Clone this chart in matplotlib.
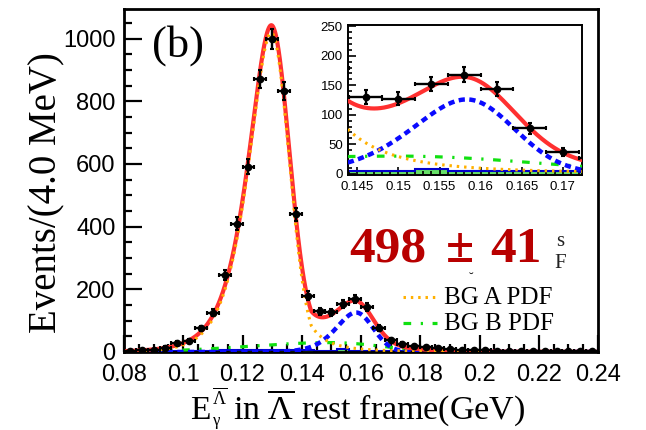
import numpy as np
import matplotlib
matplotlib.use("Agg")
import matplotlib.pyplot as plt
from matplotlib.lines import Line2D
from matplotlib.ticker import MultipleLocator, FixedLocator, FixedFormatter

plt.rcParams["font.family"] = ["Liberation Sans", "DejaVu Sans"]
plt.rcParams["mathtext.fontset"] = "custom"
plt.rcParams["mathtext.rm"] = "Liberation Serif"
plt.rcParams["mathtext.it"] = "Liberation Serif:italic"
plt.rcParams["mathtext.bf"] = "Liberation Serif:bold"

# ---------------- data: events per 4 MeV bin ----------------
bin_lo, bin_hi, bin_width = 0.080, 0.240, 0.004
counts = [3, 5, 5, 14, 30, 35, 75, 126, 245, 410,
          591, 871, 998, 833, 440, 180, 130, 127, 152, 168,
          143, 77, 37, 26, 18, 16, 12, 10, 7, 6,
          5, 4, 4, 3, 3, 2, 3, 2, 2, 2]
# sideband-like histogram drawn filled at the bottom
side_counts = [1, 1, 2, 2, 3, 3, 4, 4, 5, 5,
               5, 5, 5, 5, 5, 5, 4, 4, 8, 4,
               4, 4, 4, 3, 3, 2, 2, 2, 1, 1,
               1, 1, 1, 1, 1, 1, 1, 1, 1, 1]

# ---------------- fit components (shape parameters) ----------------
# BG A: large peak, width grows with distance from the mean
bga_mu, bga_height = 0.1297, 1019.0
bga_sig_left, bga_grow_left = 0.0063, 0.15
bga_sig_right, bga_grow_right, bga_knee_right = 0.00605, 0.23, 0.0135
# signal peak
sig_mu, sig_height = 0.1583, 126.0
sig_sig_left, sig_grow_left = 0.0060, 0.10
sig_sig_right = 0.0058
# BG B: broad bump
bgb_mu, bgb_height = 0.150, 30.0
bgb_sig_left, bgb_sig_right = 0.028, 0.017

yield_text = "498"
yield_err = "41"

main_xticks = [0.08, 0.10, 0.12, 0.14, 0.16, 0.18, 0.20, 0.22, 0.24]
main_xlabels = ["0.08", "0.1", "0.12", "0.14", "0.16", "0.18", "0.2", "0.22", "0.24"]
inset_xticks = [0.145, 0.150, 0.155, 0.160, 0.165, 0.170]
inset_xlabels = ["0.145", "0.15", "0.155", "0.16", "0.165", "0.17"]


def peak(x, mu, h, sl, gl, sr, gr=0.0, knee=0.0):
    dx = x - mu
    s = np.where(dx < 0, sl + gl * np.abs(dx),
                 sr + gr * np.clip(dx - knee, 0, None))
    return h * np.exp(-0.5 * (dx / s) ** 2)


edges = np.arange(len(counts) + 1) * bin_width + bin_lo
centers = 0.5 * (edges[:-1] + edges[1:])
y = np.array(counts, dtype=float)
yerr = np.sqrt(y)

xf = np.linspace(bin_lo, bin_hi, 1600)
bga = peak(xf, bga_mu, bga_height, bga_sig_left, bga_grow_left,
           bga_sig_right, bga_grow_right, bga_knee_right)
sig = peak(xf, sig_mu, sig_height, sig_sig_left, sig_grow_left, sig_sig_right)
bgb = peak(xf, bgb_mu, bgb_height, bgb_sig_left, 0.0, bgb_sig_right)
total = bga + sig + bgb

RED = "#ff3030"
ORANGE = "#ffb000"
BLUE = "#0a0aff"
GREEN = "#10e010"
FILL = "#66e066"

W, H = 646, 430
fig = plt.figure(figsize=(W / 100, H / 100), dpi=100)


def fx(px):
    return px / W


def fy(py):
    return 1 - py / H


def draw(ax, lw_scale=1.0, ms=4.5):
    ax.stairs(side_counts, edges, fill=True, color=FILL, zorder=1)
    ax.stairs(side_counts, edges, color="#0000cc", lw=1.5, zorder=2)
    ax.plot(xf, bgb, color=GREEN, lw=2.3 * lw_scale,
            dashes=(2.4, 3.0, 0.7, 3.0), zorder=3)
    ax.plot(xf, sig, color=BLUE, lw=3.2 * lw_scale, dashes=(1.4, 1.0), zorder=4)
    ax.plot(xf, total, color=RED, lw=3.0 * lw_scale, zorder=5)
    ax.plot(xf, bga, color=ORANGE, lw=2.2 * lw_scale, dashes=(0.8, 1.6), zorder=6)
    ax.errorbar(centers, y, yerr=yerr, xerr=bin_width / 2, fmt="o",
                color="black", ms=ms, elinewidth=1.7, capsize=1.6,
                capthick=1.5, zorder=10)


# ---------------- main panel ----------------
ax = fig.add_axes([fx(124), fy(352), fx(598 - 124), (352 - 8.5) / H])
draw(ax)
ax.set_xlim(bin_lo, bin_hi)
ax.set_ylim(0, 1096)
ax.xaxis.set_major_locator(FixedLocator(main_xticks))
ax.xaxis.set_major_formatter(FixedFormatter(main_xlabels))
ax.xaxis.set_minor_locator(MultipleLocator(0.005))
ax.yaxis.set_major_locator(MultipleLocator(200))
ax.yaxis.set_minor_locator(MultipleLocator(50))
ax.tick_params(which="both", direction="in", top=False, right=False,
               width=1.6, labelsize=17)
ax.tick_params(axis="x", which="major", length=12, pad=8.6)
ax.tick_params(axis="y", which="major", length=13, pad=6)
ax.tick_params(which="minor", length=6)
for s in ax.spines.values():
    s.set_linewidth(2.0)

ax.set_ylabel("Events/(4.0 MeV)", fontfamily="Liberation Serif", fontsize=28,
              va="center")
ax.yaxis.set_label_coords((47 - 124) / 474, (352 - 193) / 343.5)

# x-axis title: E with Lambda-bar superscript and gamma subscript
SERIF = "Liberation Serif"
fig.text(fx(190), fy(419), "E", fontfamily=SERIF, fontsize=24, va="baseline")
fig.text(fx(212), fy(404), r"$\overline{\Lambda}$", fontfamily=SERIF,
         fontsize=13, va="baseline")
fig.text(fx(213), fy(421), "\u03b3", fontfamily=SERIF, fontsize=12,
         va="center")
fig.text(fx(233), fy(419), r"in $\overline{\Lambda}$ rest frame(GeV)",
         fontfamily=SERIF, fontsize=24.5, va="baseline")

fig.text(fx(178), fy(46), "(b)", fontfamily=SERIF, fontsize=32,
         ha="center", va="center")

# fitted yield
DARKRED = "#b80000"
fig.text(fx(388), fy(250), yield_text, fontfamily=SERIF,
         fontweight="bold", fontsize=37, color=DARKRED, ha="center", va="center")
fig.text(fx(460), fy(250), "\u00b1", fontfamily=SERIF,
         fontweight="bold", fontsize=37, color=DARKRED, ha="center", va="center")
fig.text(fx(516), fy(250), yield_err, fontfamily=SERIF,
         fontweight="bold", fontsize=37, color=DARKRED, ha="center", va="center")
fig.text(fx(560), fy(242), "s", fontfamily=SERIF, fontsize=15,
         color="#222222", ha="center", va="center")
fig.text(fx(560), fy(264), "F", fontfamily=SERIF, fontsize=15,
         color="#222222", ha="center", va="center")
fig.text(fx(471), fy(279), "\u02d8", fontfamily=SERIF, fontsize=10,
         color="#222222", ha="center", va="center")

# legend entries
fig.add_artist(Line2D([fx(403), fx(437)], [fy(297), fy(297)],
                      transform=fig.transFigure, color=ORANGE, lw=2.2,
                      dashes=(0.8, 1.6)))
fig.add_artist(Line2D([fx(403), fx(437)], [fy(323), fy(323)],
                      transform=fig.transFigure, color=GREEN, lw=2.3,
                      dashes=(2.4, 3.0, 0.7, 3.0)))
fig.text(fx(444), fy(298), "BG A PDF", fontfamily=SERIF,
         fontsize=18, ha="left", va="center")
fig.text(fx(444), fy(324), "BG B PDF", fontfamily=SERIF,
         fontsize=18, ha="left", va="center")

# ---------------- inset ----------------
ins = fig.add_axes([fx(348.3), fy(175), fx(581.7 - 348.3), 150 / H])
ins.set_facecolor("white")
draw(ins, lw_scale=1.0, ms=4.5)
ins.set_xlim(0.1439, 0.1723)
ins.set_ylim(-2, 252)
ins.xaxis.set_major_locator(FixedLocator(inset_xticks))
ins.xaxis.set_major_formatter(FixedFormatter(inset_xlabels))
ins.xaxis.set_minor_locator(MultipleLocator(0.001))
ins.yaxis.set_major_locator(MultipleLocator(50))
ins.yaxis.set_minor_locator(MultipleLocator(10))
ins.tick_params(which="both", direction="in", top=False, right=False,
                width=1.2, labelsize=9.5)
ins.tick_params(which="major", length=6, pad=4)
ins.tick_params(which="minor", length=3)
for s in ins.spines.values():
    s.set_linewidth(1.4)

fig.savefig("out.png", dpi=100)
